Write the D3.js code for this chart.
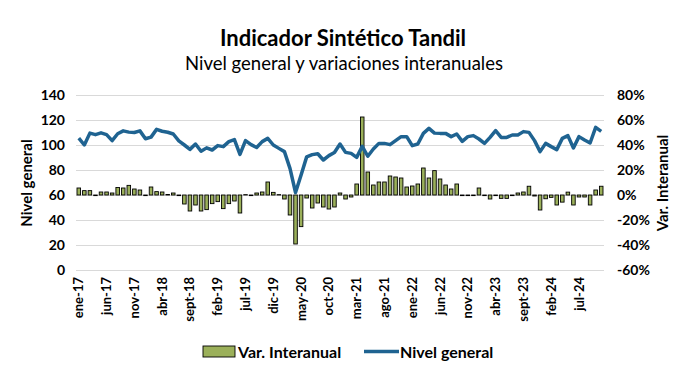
<!DOCTYPE html>
<html><head><meta charset="utf-8">
<script src="https://cdn.jsdelivr.net/npm/d3@7"></script>
<style>body{margin:0;background:#fff}svg{display:block}text{font-family:Lato,"Open Sans",sans-serif}</style>
</head><body><svg id="c" width="684" height="367"></svg>
<script>
const monthNames = ["ene","feb","mar","abr","may","jun","jul","ago","sept","oct","nov","dic"];
const categories = [];
for (let y = 17; y <= 24; y++) for (let m = 0; m < 12; m++) { if (y === 24 && m > 10) break; categories.push(monthNames[m] + "-" + y); }
const nivelGeneral = [105.5,100,109.5,108.3,109.7,108.3,103.5,109,111.3,110.3,110,111.3,105,106.3,112.5,111,110.2,108.8,103.3,100,
  96.5,100.8,95,97.7,96,99.5,98.7,102.7,104.3,92.5,103.5,100.3,98,102.7,105.3,100,97.3,94.7,81.3,62,
  76,90.5,92.3,93,88,91.5,94,100.8,94.1,93.3,90.1,98.9,91,96.8,101.3,101.3,100.3,103.5,106.7,106.7,
  99.5,100.8,109.3,113.3,109.5,109.3,109.3,106.7,108.8,102.9,106.7,107.5,104.8,101.3,106.1,111.5,106.1,106.1,108,108,
  110.7,110.1,103.5,94.7,101.3,98.7,96.3,105.3,107.5,97.6,106.7,104,101.6,114.1,110.9];
const varInteranual = [5.6,3.5,3.5,-0.5,2.4,2.4,1.6,6,5.6,7.7,4.8,4,-0.5,6.4,2.7,2.4,0.4,1.6,-0.5,-7.2,
  -12.8,-8,-12.8,-11.7,-6.9,-5.3,-10.9,-6.9,-4.8,-14.4,0.3,-0.5,1.6,2.4,10.4,2.1,0.3,-3.2,-16,-39.2,
  -25.3,-2.4,-10.4,-6.4,-9.6,-11.2,-9.6,1.6,-3.2,-1.6,8.8,62.4,18.4,8,10.4,10.4,15.2,14.4,13.6,6.4,
  7.2,8.8,21.6,13.6,19.5,12.8,8,4.8,8.8,-0.5,-0.5,-0.5,5.6,-0.5,-3.2,-0.5,-2.7,-2.7,-0.5,1.6,
  2.4,7,-0.8,-12,-3,-1.9,-8,-5.7,2.3,-8,-1.6,-1.6,-8,4,7];
const leftTicks = [0,20,40,60,80,100,120,140];
const rightTicks = [-60,-40,-20,0,20,40,60,80];
const tickLabels = categories.filter((d,i) => i % 5 === 0);
const title = "Indicador Sintético Tandil";
const subtitle = "Nivel general y variaciones interanuales";

const svg = d3.select("#c");
const L = 76, R = 604, T = 95, B = 270;
const x = d3.scaleBand().domain(categories).range([L, R]).paddingInner(0.36).paddingOuter(0.18);
const yL = d3.scaleLinear().domain([0,140]).range([B, T]);
const yR = d3.scaleLinear().domain([-60,80]).range([B, T]);
const blue = "#1f6391", green = "#9bb05a";

svg.append("text").attr("x",343).attr("y",46).attr("text-anchor","middle")
  .attr("font-size",22).attr("font-weight","bold").attr("fill","#000").text(title);
svg.append("text").attr("x",344).attr("y",70).attr("text-anchor","middle")
  .attr("font-size",18.5).attr("fill","#000").text(subtitle);

// gridlines
svg.append("g").selectAll("line").data(leftTicks).join("line")
  .attr("x1",L).attr("x2",R).attr("y1",d=>yL(d)+0.5).attr("y2",d=>yL(d)+0.5)
  .attr("stroke","#d9d9d9").attr("stroke-width",1);

// left axis
const gl = svg.append("g").attr("transform",`translate(${L-4},0)`)
  .call(d3.axisLeft(yL).tickValues(leftTicks).tickSize(0).tickPadding(7));
gl.select(".domain").remove();
gl.selectAll("text").attr("font-size",14).attr("font-weight","bold").attr("fill","#000").attr("font-family","Lato");

// right axis
const gr = svg.append("g").attr("transform",`translate(${R+8},0)`)
  .call(d3.axisRight(yR).tickValues(rightTicks).tickSize(0).tickPadding(5).tickFormat(d=>d+"%"));
gr.select(".domain").remove();
gr.selectAll("text").attr("font-size",14).attr("font-weight","bold").attr("fill","#000").attr("font-family","Lato");

// x axis
const gx = svg.append("g").attr("transform",`translate(0,${B})`)
  .call(d3.axisBottom(x).tickValues(tickLabels).tickSize(0).tickPadding(0));
gx.select(".domain").remove();
gx.selectAll("text").attr("font-size",13).attr("font-weight","bold").attr("fill","#000").attr("font-family","Lato")
  .attr("transform","rotate(-90)").attr("text-anchor","end").attr("dy","0.35em").attr("dx","-7").attr("y",0).attr("x",0);

// bars
svg.append("g").selectAll("rect").data(varInteranual).join("rect")
  .attr("x",(d,i)=>x(categories[i])).attr("width",x.bandwidth())
  .attr("y",d=>Math.min(yR(d),yR(0))).attr("height",d=>Math.abs(yR(d)-yR(0)))
  .attr("fill",green).attr("stroke","#000").attr("stroke-width",0.9);

// line
const line = d3.line().x((d,i)=>x(categories[i])+x.bandwidth()/2).y(d=>yL(d));
svg.append("path").datum(nivelGeneral).attr("d",line).attr("fill","none")
  .attr("stroke",blue).attr("stroke-width",3.5).attr("stroke-linejoin","round");

// axis titles
svg.append("text").attr("transform","translate(32,183) rotate(-90)").attr("text-anchor","middle")
  .attr("font-size",15).attr("font-weight","bold").text("Nivel general");
svg.append("text").attr("transform","translate(668,183) rotate(-90)").attr("text-anchor","middle")
  .attr("font-size",15).attr("font-weight","bold").text("Var. Interanual");

// legend
const lg = svg.append("g");
lg.append("rect").attr("x",203).attr("y",346).attr("width",32).attr("height",11)
  .attr("fill",green).attr("stroke","#000").attr("stroke-width",0.9);
lg.append("text").attr("x",238).attr("y",358).attr("font-size",16).attr("font-weight","bold").text("Var. Interanual");
lg.append("line").attr("x1",364).attr("x2",399).attr("y1",351.5).attr("y2",351.5).attr("stroke",blue).attr("stroke-width",3.5);
lg.append("text").attr("x",400).attr("y",358).attr("font-size",16).attr("font-weight","bold").text("Nivel general");
</script></body></html>
